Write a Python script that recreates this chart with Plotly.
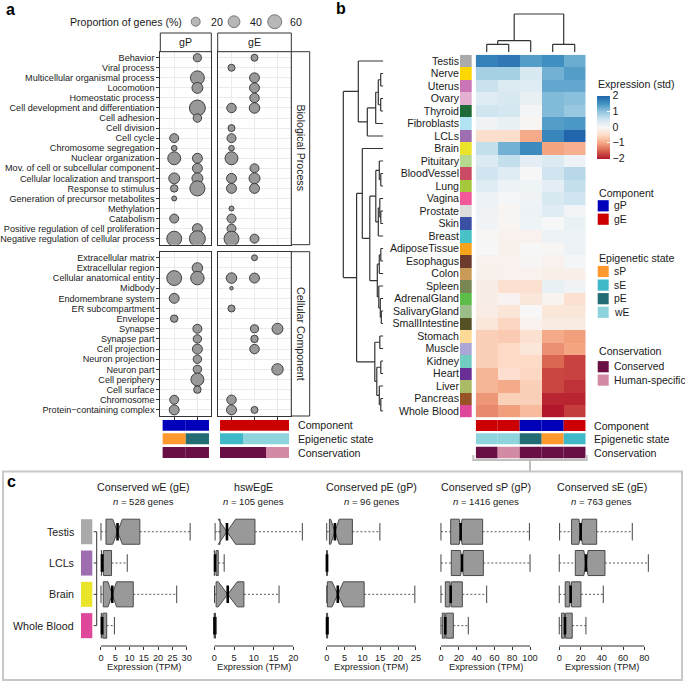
import math
import plotly.graph_objects as go

W, H = 685, 683
def fx(px): return px / W
def fy(py): return 1 - py / H

FONT = "Liberation Sans, Arial, sans-serif"
INK = "#1a1a1a"
BORDER = "#333333"
GRID = "#ebebeb"
BUBBLE = "#999999"

# ---------------- Panel a data ----------------
bp_terms = ["Behavior", "Viral process", "Multicellular organismal process", "Locomotion",
            "Homeostatic process", "Cell development and differentiation", "Cell adhesion",
            "Cell division", "Cell cycle", "Chromosome segregation", "Nuclear organization",
            "Mov. of cell or subcellular component", "Cellular localization and transport",
            "Response to stimulus", "Generation of precursor metabolites", "Methylation",
            "Catabolism", "Positive regulation of cell proliferation",
            "Negative regulation of cellular process"]
cc_terms = ["Extracellular matrix", "Extracellular region", "Cellular anatomical entity", "Midbody",
            "Endomembrane system", "ER subcompartment", "Envelope", "Synapse", "Synapse part",
            "Cell projection", "Neuron projection", "Neuron part", "Cell periphery", "Cell surface",
            "Chromosome", "Protein\u2212containing complex"]
N = None
bp_gP_sP = [N, N, N, N, N, N, N, N, 20, 5, 50, N, 33, 12, 3.5, N, 20, N, 70]
bp_gP_pE = [15, N, 60, 33, N, 82, 17, N, N, N, 26, 26, 33, 72, N, N, N, 26, 82]
bp_gE_sE = [N, 10, N, N, N, 23, N, 10, 20, 5, 50, N, 26, 26, N, 3.5, 20, 20, 70]
bp_gE_wE = [10, N, 26, 26, 23, 30, N, N, N, N, N, 20, 33, 26, N, N, N, N, 20]
bp_gE_hswE = [N] * 19
cc_gP_sP = [N, N, 70, N, 26, N, 12, N, N, N, N, N, N, N, 20, 26]
cc_gP_pE = [N, 30, 55, N, N, N, N, 20, 17, 26, 17, 17, 50, 12, N, N]
cc_gE_sE = [N, N, 30, 0.7, N, 10, N, N, N, N, N, N, N, N, 23, 26]
cc_gE_wE = [6, N, 26, N, N, N, N, 15, 12, 23, N, N, N, N, N, 10]
cc_gE_hswE = [N, N, N, N, N, N, N, 33, N, N, N, 37, N, N, N, N]
legend_sizes = [20, 40, 60]

gP_epi = ["sP", "pE"]
gP_cons = ["Conserved", "Conserved"]
gE_epi = ["sE", "wE", "wE"]
gE_cons = ["Conserved", "Conserved", "Human-specific"]

# ---------------- Panel b data ----------------
tissues = ["Testis", "Nerve", "Uterus", "Ovary", "Thyroid", "Fibroblasts", "LCLs", "Brain",
           "Pituitary", "BloodVessel", "Lung", "Vagina", "Prostate", "Skin", "Breast",
           "AdiposeTissue", "Esophagus", "Colon", "Spleen", "AdrenalGland", "SalivaryGland",
           "SmallIntestine", "Stomach", "Muscle", "Kidney", "Heart", "Liver", "Pancreas",
           "Whole Blood"]
hm_columns = ["Conserved wE (gE)", "hswEgE", "Conserved pE (gP)", "Conserved sP (gP)", "Conserved sE (gE)"]
hm_cwE = [1.7, 0.85, 0.55, 0.3, 0.5, 0.1, -0.45, 0.6, 0.35, 0.5, 0.3, 0.15, 0.1, 0.08, -0.02,
          0.0, -0.1, -0.12, -0.17, -0.17, -0.2, -0.3, -0.6, -0.6, -0.6, -0.85, -0.85, -1.1, -1.2]
hm_hswE = [1.8, 0.85, 0.35, 0.4, 0.45, 0.2, -0.45, 1.2, 0.6, 0.3, 0.15, 0.02, -0.05, -0.05, -0.1,
           -0.12, -0.1, -0.1, -0.4, -0.07, -0.33, -0.55, -0.65, -0.5, -0.5, -0.42, -0.95, -0.6, -1.05]
hm_cpE = [1.4, 0.4, 0.3, 0.2, 0.05, -0.05, -0.95, 1.6, 0.25, 0.0, 0.12, 0.1, 0.15, 0.12, -0.1,
          0.0, -0.03, -0.1, -0.4, -0.28, 0.0, -0.1, -0.4, -0.3, -0.5, -0.52, -0.6, -0.6, -0.8]
hm_csP = [1.55, 1.2, 1.3, 1.1, 1.1, 1.4, 1.65, -1.0, 0.35, 0.5, 0.25, 0.4, 0.3, 0.0, 0.15,
          -0.02, -0.1, -0.15, 0.2, -0.08, -0.3, -0.22, -0.95, -1.15, -1.45, -1.68, -1.68, -1.9, -2.0]
hm_csE = [1.25, 1.4, 1.3, 1.05, 0.95, 1.45, 2.0, -0.9, 0.15, 0.7, 0.6, 0.5, 0.08, 0.18, 0.15,
          0.15, 0.05, -0.15, 0.1, -0.4, -0.3, -0.22, -1.05, -1.0, -1.7, -1.7, -1.82, -1.92, -1.75]
hm_component = ["gE", "gE", "gP", "gP", "gE"]
hm_epi = ["wE", "wE", "pE", "sP", "sE"]
hm_cons = ["Conserved", "Human-specific", "Conserved", "Conserved", "Conserved"]

row_tree = [
    ("n1", "Nerve", "Uterus", 2.6), ("n2", "Ovary", "Thyroid", 2.6), ("n3", "n1", "n2", 5.0),
    ("n4", "n3", "Fibroblasts", 7.6), ("n5", "n4", "LCLs", 16.0), ("n6", "Testis", "n5", 25.0),
    ("m1", "BloodVessel", "Lung", 2.5), ("m2", "Pituitary", "m1", 4.0), ("m3", "Prostate", "Skin", 2.5),
    ("m4", "Vagina", "m3", 3.5), ("m5", "m4", "Breast", 5.0), ("m6", "m2", "m5", 7.5),
    ("k1", "AdiposeTissue", "Esophagus", 2.5), ("k2", "k1", "Colon", 4.0),
    ("k3", "SalivaryGland", "SmallIntestine", 2.0), ("k4", "AdrenalGland", "k3", 3.0),
    ("k5", "Spleen", "k4", 4.5), ("k6", "k2", "k5", 6.0), ("b1", "m6", "k6", 13.5),
    ("b2", "Brain", "b1", 21.0), ("s1", "Stomach", "Muscle", 3.5), ("s2", "Kidney", "Heart", 2.5),
    ("s3", "Pancreas", "Whole Blood", 2.5), ("s4", "Liver", "s3", 4.0), ("s5", "s2", "s4", 6.5),
    ("s6", "s1", "s5", 8.5), ("b3", "b2", "s6", 26.7), ("root", "n6", "b3", 40.0),
]
col_tree = [
    ("c12", "Conserved wE (gE)", "hswEgE", 8.0), ("c123", "c12", "Conserved pE (gP)", 11.6),
    ("c45", "Conserved sP (gP)", "Conserved sE (gE)", 8.0), ("croot", "c123", "c45", 38.3),
]

# ---------------- Panel c data ----------------
c_titles = hm_columns
c_n = [528, 105, 96, 1416, 763]
c_tissues = ["Testis", "LCLs", "Brain", "Whole Blood"]
cwE_lo = [0, 0, 0, 0];          cwE_q1 = [1.75, 0.2, 0.8, 0.1];   cwE_med = [5.8, 0.5, 3.95, 0.45]
cwE_q3 = [13.6, 3.7, 11.3, 2.0]; cwE_hi = [31.2, 9.2, 26.5, 4.7]; cwE_notch = [1.7, 0.4, 1.5, 0.25]
hswE_lo = [0.2, 0, 0.05, 0];     hswE_q1 = [1.45, 0.05, 0.45, 0.0]; hswE_med = [3.2, 0.2, 3.4, 0.05]
hswE_q3 = [10.3, 1.0, 7.5, 0.3]; hswE_hi = [22.3, 2.5, 16.4, 0.5]; hswE_notch = [2.2, 0.25, 2.4, 0.05]
cpE_lo = [0, 0, 0, 0];           cpE_q1 = [0.75, 0.02, 0.17, 0.02]; cpE_med = [2.3, 0.05, 3.1, 0.08]
cpE_q3 = [7.2, 0.15, 10.5, 0.25]; cpE_hi = [14.9, 0.3, 24.7, 0.5]; cpE_notch = [1.2, 0.03, 1.6, 0.05]
csP_lo = [0, 0, 0, 0];           csP_q1 = [10.9, 11.6, 4.9, 1.5];  csP_med = [22.1, 23.6, 10.9, 4.9]
csP_q3 = [46.8, 47.6, 24.0, 13.9]; csP_hi = [99.3, 100, 51.3, 30.7]; csP_notch = [1.5, 1.5, 0.8, 0.6]
csE_lo = [0.3, 0, 0, 0];         csE_q1 = [11.6, 15.1, 5.6, 2.2];  csE_med = [20.1, 25.1, 10.7, 5.4]
csE_q3 = [35.2, 43.0, 20.4, 12.2]; csE_hi = [68.7, 83.8, 41.4, 25.1]; csE_notch = [1.6, 2.0, 0.9, 0.6]
c_ticks = [[0, 5, 10, 15, 20, 25, 30], [0, 5, 10, 15, 20], [0, 5, 10, 15, 20, 25],
           [0, 20, 40, 60, 80, 100], [0, 20, 40, 60, 80]]

# ---------------- styles ----------------
tissue_colors = {
    "Testis": "#aaaaaa", "Nerve": "#ffd700", "Uterus": "#c975b6", "Ovary": "#e3b0d2",
    "Thyroid": "#1d6b38", "Fibroblasts": "#b2e3f3", "LCLs": "#9f6eb0", "Brain": "#eae42a",
    "Pituitary": "#b5d98f", "BloodVessel": "#cb4b64", "Lung": "#a4c83a", "Vagina": "#f0589a",
    "Prostate": "#dcdcdc", "Skin": "#3a50a5", "Breast": "#48c2c6", "AdiposeTissue": "#f8a41a",
    "Esophagus": "#6c3b2e", "Colon": "#ca9a58", "Spleen": "#788653", "AdrenalGland": "#5cbe48",
    "SalivaryGland": "#9bbd8a", "SmallIntestine": "#555326", "Stomach": "#fddb97",
    "Muscle": "#aaa7d7", "Kidney": "#73ccc1", "Heart": "#692f96", "Liver": "#a9bb64",
    "Pancreas": "#985426", "Whole Blood": "#df479a"}
comp_colors = {"gP": "#0000bb", "gE": "#cc0000"}
epi_colors = {"sP": "#ff992e", "sE": "#3fb9c8", "pE": "#246c74", "wE": "#8ed4dc"}
cons_colors = {"Conserved": "#6a0f45", "Human-specific": "#d38aa4"}
heat_scale = [[0, "#b2182b"], [0.125, "#d6604d"], [0.25, "#f4a582"], [0.375, "#fddbc7"],
              [0.5, "#f7f7f7"], [0.625, "#d1e5f0"], [0.75, "#92c5de"], [0.875, "#4393c3"],
              [1, "#2166ac"]]

def size_px(v):
    return 2.2 + 1.52 * math.sqrt(v)

layout = {}
traces, shapes, annots = [], [], []
ax_n = [0]

def new_axes(xpx, ypx, xcfg, ycfg):
    ax_n[0] += 1
    s = "" if ax_n[0] == 1 else str(ax_n[0])
    base = dict(showgrid=False, zeroline=False, showticklabels=False, ticks="", fixedrange=True,
                automargin=False)
    xc = dict(base); xc.update(xcfg)
    yc = dict(base); yc.update(ycfg)
    layout["xaxis" + s] = dict(domain=[fx(xpx[0]), fx(xpx[1])], anchor="y" + s, **xc)
    layout["yaxis" + s] = dict(domain=[fy(ypx[1]), fy(ypx[0])], anchor="x" + s, **yc)
    return "x" + s, "y" + s

def text(x, y, s, size=10.6, xanchor="left", xref="paper", yref="paper", **kw):
    annots.append(dict(x=x, y=y, xref=xref, yref=yref, text=s, showarrow=False,
                       xanchor=xanchor, yanchor=kw.pop("yanchor", "middle"),
                       font=dict(size=size, color=kw.pop("color", INK), family=FONT), **kw))

def rect(x0, x1, y0, y1, color, xref="paper", yref="paper", line=None):
    shapes.append(dict(type="rect", xref=xref, yref=yref, x0=x0, x1=x1, y0=y0, y1=y1,
                       fillcolor=color, line=line or dict(width=0), layer="above"))

# ================= Panel a =================
facets = [
    ("gP", gP_epi, gP_cons, [bp_gP_sP, bp_gP_pE], [cc_gP_sP, cc_gP_pE], (160.3, 211.3)),
    ("gE", gE_epi, gE_cons, [bp_gE_sE, bp_gE_wE, bp_gE_hswE], [cc_gE_sE, cc_gE_wE, cc_gE_hswE], (217.7, 291.3)),
]
blocks = [("Biological Process", bp_terms, (51.7, 244.7)), ("Cellular Component", cc_terms, (251.7, 416.0))]
for bname, terms, ypx in blocks:
    for fi, (comp, epi, cons, bpv, ccv, xpx) in enumerate(facets):
        ncol = len(epi)
        xr = [0.4, ncol + 0.6]
        is_cc = bname.startswith("Cellular")
        xcfg = dict(range=xr, tickvals=list(range(1, ncol + 1)), showgrid=True, gridcolor=GRID,
                    gridwidth=1, showline=True, mirror=True, linecolor=BORDER, linewidth=1,
                    ticks="outside" if is_cc else "", ticklen=3, tickcolor=BORDER)
        ycfg = dict(type="category", categoryorder="array", categoryarray=terms,
                    tickmode="array", tickvals=terms, ticktext=terms,
                    range=[len(terms) - 0.4, -0.6],
                    showgrid=True, gridcolor=GRID, gridwidth=1, showline=True, mirror=True,
                    linecolor=BORDER, linewidth=1, ticks="outside" if fi == 0 else "",
                    ticklen=3, tickcolor=BORDER, showticklabels=(fi == 0),
                    tickfont=dict(size=9.1, color=INK, family=FONT))
        xa, ya = new_axes(xpx, ypx, xcfg, ycfg)
        vals_list = ccv if is_cc else bpv
        for j, vals in enumerate(vals_list):
            xs, ys, ss = [], [], []
            for t, v in zip(terms, vals):
                if v is None:
                    continue
                xs.append(j + 1); ys.append(t); ss.append(size_px(v))
            if xs:
                traces.append(go.Scatter(x=xs, y=ys, mode="markers", xaxis=xa, yaxis=ya,
                                         marker=dict(size=ss, color=BUBBLE, opacity=1,
                                                     line=dict(color=BORDER, width=0.9)),
                                         showlegend=False, hoverinfo="skip"))
        if is_cc:
            for j in range(ncol):
                x0 = max(j + 0.5, xr[0]); x1 = min(j + 1.5, xr[1])
                rect(x0, x1, fy(430.7), fy(420.0), comp_colors[comp], xref=xa)
                rect(x0, x1, fy(444.3), fy(433.3), epi_colors[epi[j]], xref=xa)
                rect(x0, x1, fy(458.0), fy(447.0), cons_colors[cons[j]], xref=xa)
        else:
            rect(fx(xpx[0]), fx(xpx[1]), fy(51.7), fy(33.0), "white",
                 line=dict(color=BORDER, width=1))
            text(fx((xpx[0] + xpx[1]) / 2), fy(42.3), comp, size=10.6, xanchor="center")
    rect(fx(291.3), fx(309.7), fy(ypx[1]), fy(ypx[0]), "white", line=dict(color=BORDER, width=1))
    text(fx(300.8), fy((ypx[0] + ypx[1]) / 2), bname, size=10.6, xanchor="center", textangle=90)

for lab, yy in [("Component", 425.3), ("Epigenetic state", 438.8), ("Conservation", 452.5)]:
    text(fx(295.5), fy(yy), lab, size=10.6)

# bubble size legend (small pixel-coordinate axis)
LG_X = (186.0, 286.0)
LG_Y = (11.0, 33.0)
lx, ly = new_axes(LG_X, LG_Y, dict(range=list(LG_X), visible=False), dict(range=[LG_Y[1], LG_Y[0]], visible=False))
leg_x = [195.7, 234.0, 274.7]
traces.append(go.Scatter(x=leg_x, y=[21.7] * 3, mode="markers", xaxis=lx, yaxis=ly, cliponaxis=False,
                         marker=dict(size=[size_px(v) for v in legend_sizes], color=BUBBLE,
                                     line=dict(color=BORDER, width=0.9)),
                         showlegend=False, hoverinfo="skip"))
text(fx(183.5), fy(21.7), "Proportion of genes (%)", size=10.6, xanchor="right")
for xx, v in zip(leg_x, legend_sizes):
    text(fx(xx + 13.5), fy(21.7), str(v), size=10.6)

# ================= Panel b =================
HM_X = (475.7, 585.7)
HM_Y = (54.75, 417.25)
nrow = len(tissues)
z = [list(r) for r in zip(hm_cwE, hm_hswE, hm_cpE, hm_csP, hm_csE)]
hx, hy = new_axes(HM_X, HM_Y, dict(range=[-0.5, 4.5]), dict(range=[nrow - 0.5, -0.5]))
traces.append(go.Heatmap(z=z, x=list(range(5)), y=list(range(nrow)), xaxis=hx, yaxis=hy,
                         colorscale=heat_scale, zmin=-2, zmax=2, hoverinfo="skip",
                         colorbar=dict(x=fx(596.7), xanchor="left", y=fy(127.0), yanchor="middle",
                                       lenmode="pixels", len=63, thicknessmode="pixels",
                                       thickness=12.6, outlinewidth=0, xpad=0, ypad=0,
                                       tickvals=[-2, -1, 0, 1, 2],
                                       ticktext=["\u22122", "\u22121", "0", "1", "2"],
                                       ticks="inside", ticklen=3, tickcolor="white",
                                       tickfont=dict(size=10.6, color=INK, family=FONT))))
text(fx(595.7), fy(84.0), "Expression (std)", size=10.6)

n_t = len(tissues)
sw_scale = []
for i, t in enumerate(tissues):
    sw_scale += [[i / n_t, tissue_colors[t]], [(i + 1) / n_t, tissue_colors[t]]]
sx, sy = new_axes((460.0, 471.7), HM_Y, dict(range=[-0.5, 0.5]),
                  dict(range=[nrow - 0.5, -0.5], tickmode="array", tickvals=list(range(nrow)),
                       ticktext=tissues, showticklabels=True,
                       tickfont=dict(size=10.6, color=INK, family=FONT)))
traces.append(go.Heatmap(z=[[i] for i in range(nrow)], x=[0], y=list(range(nrow)), xaxis=sx, yaxis=sy,
                         colorscale=sw_scale, zmin=0, zmax=nrow - 1, showscale=False, hoverinfo="skip"))

def dendro(tree, leaf_pos):
    pos = dict(leaf_pos); hgt = {k: 0.0 for k in leaf_pos}
    hs, ps = [], []
    for name, a, b, h in tree:
        for c in (a, b):
            hs += [hgt[c], h, None]; ps += [pos[c], pos[c], None]
        hs += [h, h, None]; ps += [pos[a], pos[b], None]
        pos[name] = (pos[a] + pos[b]) / 2; hgt[name] = h
    return hs, ps

rh, rp = dendro(row_tree, {t: i for i, t in enumerate(tissues)})
dx, dy = new_axes((340.0, 383.3), HM_Y, dict(range=[43.3, 0]), dict(range=[nrow - 0.5, -0.5]))
traces.append(go.Scatter(x=rh, y=rp, mode="lines", xaxis=dx, yaxis=dy, line=dict(color=BORDER, width=1.2),
                         showlegend=False, hoverinfo="skip", cliponaxis=False))
chh, chp = dendro(col_tree, {c: i for i, c in enumerate(hm_columns)})
cx, cy = new_axes(HM_X, (13.0, 52.3), dict(range=[-0.5, 4.5]), dict(range=[0, 39.3]))
traces.append(go.Scatter(x=chp, y=chh, mode="lines", xaxis=cx, yaxis=cy, line=dict(color=BORDER, width=1.2),
                         showlegend=False, hoverinfo="skip", cliponaxis=False))

for i in range(5):
    rect(i - 0.5, i + 0.5, fy(431.0), fy(420.0), comp_colors[hm_component[i]], xref=hx)
    rect(i - 0.5, i + 0.5, fy(444.3), fy(433.3), epi_colors[hm_epi[i]], xref=hx)
    rect(i - 0.5, i + 0.5, fy(458.3), fy(446.8), cons_colors[hm_cons[i]], xref=hx)
for lab, yy in [("Component", 425.5), ("Epigenetic state", 438.8), ("Conservation", 452.5)]:
    text(fx(591.7), fy(yy), lab, size=10.6)

def legend_block(title, title_y, items, colors, item_y0, step):
    text(fx(596.7), fy(title_y), title, size=10.6)
    for k, it in enumerate(items):
        yy = item_y0 + k * step
        rect(fx(597.7), fx(608.7), fy(yy + 5.6), fy(yy - 5.6), colors[it])
        text(fx(611.5), fy(yy), it, size=10.4)

legend_block("Component", 193.3, ["gP", "gE"], comp_colors, 205.8, 13.4)
legend_block("Epigenetic state", 258.3, ["sP", "sE", "pE", "wE"], epi_colors, 271.5, 13.6)
legend_block("Conservation", 351.0, ["Conserved", "Human-specific"], cons_colors, 366.7, 13.4)

# ================= Panel c =================
c_stats = [
    (cwE_lo, cwE_q1, cwE_med, cwE_q3, cwE_hi, cwE_notch),
    (hswE_lo, hswE_q1, hswE_med, hswE_q3, hswE_hi, hswE_notch),
    (cpE_lo, cpE_q1, cpE_med, cpE_q3, cpE_hi, cpE_notch),
    (csP_lo, csP_q1, csP_med, csP_q3, csP_hi, csP_notch),
    (csE_lo, csE_q1, csE_med, csE_q3, csE_hi, csE_notch),
]
c_frames = [([-1.25, 32.45], (97.4, 193.7)), ([-0.89, 23.2], (210.8, 305.9)),
            ([-0.99, 25.7], (323.2, 418.4)), ([-4.0, 104.0], (437.4, 533.6)),
            ([-3.35, 87.15], (555.7, 651.9))]
C_Y = (512.0, 646.0)
pos = [i + 1 for i in range(len(c_tissues))]
first_ya = None
for k, (stats, (xr, xpx)) in enumerate(zip(c_stats, c_frames)):
    lo, q1, med, q3, hi, notch = stats
    ticks = c_ticks[k]
    xa, ya = new_axes(xpx, C_Y,
                      dict(range=xr, tickvals=ticks, ticks="outside", ticklen=3, tickcolor=BORDER,
                           showticklabels=True, tickfont=dict(size=9.2, color=INK, family=FONT)),
                      dict(range=[4.65, 0.37]))
    if first_ya is None:
        first_ya = ya
    wx, wy = [], []
    for p, a, b, c, d in zip(pos, lo, q1, q3, hi):
        wx += [a, b, None, c, d, None]; wy += [p, p, None, p, p, None]
    traces.append(go.Scatter(x=wx, y=wy, mode="lines", xaxis=xa, yaxis=ya,
                             line=dict(color="#444444", width=0.9, dash="2px,2px"),
                             showlegend=False, hoverinfo="skip"))
    traces.append(go.Scatter(x=lo + hi, y=pos + pos, mode="markers", xaxis=xa, yaxis=ya,
                             marker=dict(symbol="line-ns", size=12.5, line=dict(color="#444444", width=1)),
                             showlegend=False, hoverinfo="skip"))
    traces.append(go.Box(y=pos, q1=q1, median=med, q3=q3, lowerfence=q1, upperfence=q3,
                         notchspan=notch, notched=True, notchwidth=0.5, orientation="h", width=0.8,
                         fillcolor="#999999", line=dict(color="#4a4a4a", width=1), xaxis=xa, yaxis=ya,
                         boxpoints=False, showlegend=False, hoverinfo="skip", whiskerwidth=0))
    traces.append(go.Scatter(x=med, y=pos, mode="markers", xaxis=xa, yaxis=ya,
                             marker=dict(symbol="line-ns", size=12.5, line=dict(color="black", width=2.6)),
                             showlegend=False, hoverinfo="skip"))
    shapes.append(dict(type="line", xref=xa, yref="paper", x0=ticks[0], x1=ticks[-1],
                       y0=fy(646.0), y1=fy(646.0), line=dict(color=BORDER, width=1)))
    mid = (ticks[0] + ticks[-1]) / 2
    text(mid, fy(487.0), c_titles[k], size=10.7, xanchor="center", xref=xa)
    text(mid, fy(501.7), "<i>n</i> = %d genes" % c_n[k], size=9.5, xanchor="center", xref=xa)
    text(mid, fy(666.7), "Expression (TPM)", size=9.3, xanchor="center", xref=xa)

shapes.append(dict(type="line", xref="paper", yref=first_ya, x0=fx(96.7), x1=fx(96.7),
                   y0=pos[0], y1=pos[-1], line=dict(color=BORDER, width=1)))
for p, t in zip(pos, c_tissues):
    shapes.append(dict(type="line", xref="paper", yref=first_ya, x0=fx(93.7), x1=fx(96.7),
                       y0=p, y1=p, line=dict(color=BORDER, width=1)))
    rect(fx(81.0), fx(92.3), p + 0.4, p - 0.4, tissue_colors[t], yref=first_ya)
    text(fx(75.5), p, t, size=10.7, xanchor="right", yref=first_ya)

shapes.append(dict(type="rect", xref="paper", yref="paper", x0=fx(3), x1=fx(682), y0=fy(680),
                   y1=fy(471.5), line=dict(color="#c8c8c8", width=2), layer="below"))
shapes.append(dict(type="path", xref="paper", yref="paper",
                   path="M %f,%f L %f,%f L %f,%f L %f,%f M %f,%f L %f,%f" % (
                       fx(473.3), fy(455), fx(473.3), fy(460), fx(586.7), fy(460), fx(586.7), fy(455),
                       fx(530), fy(460), fx(530), fy(471.5)),
                   line=dict(color="#c0c0c0", width=2)))

for lab, xx, yy in [("a", 4, 9), ("b", 334, 8.5), ("c", 5, 481)]:
    text(fx(xx), fy(yy), "<b>%s</b>" % lab, size=16, color="black")

layout.update(dict(width=W, height=H, margin=dict(l=0, r=0, t=0, b=0, pad=0, autoexpand=False),
                   paper_bgcolor="white",
                   plot_bgcolor="white", showlegend=False, shapes=shapes, annotations=annots,
                   font=dict(family=FONT, color=INK)))
fig = go.Figure(data=traces, layout=layout)
fig.write_html("out.html", config={"displayModeBar": False, "staticPlot": True},
               post_script="document.body.style.margin='0';document.body.style.overflow='hidden';")
